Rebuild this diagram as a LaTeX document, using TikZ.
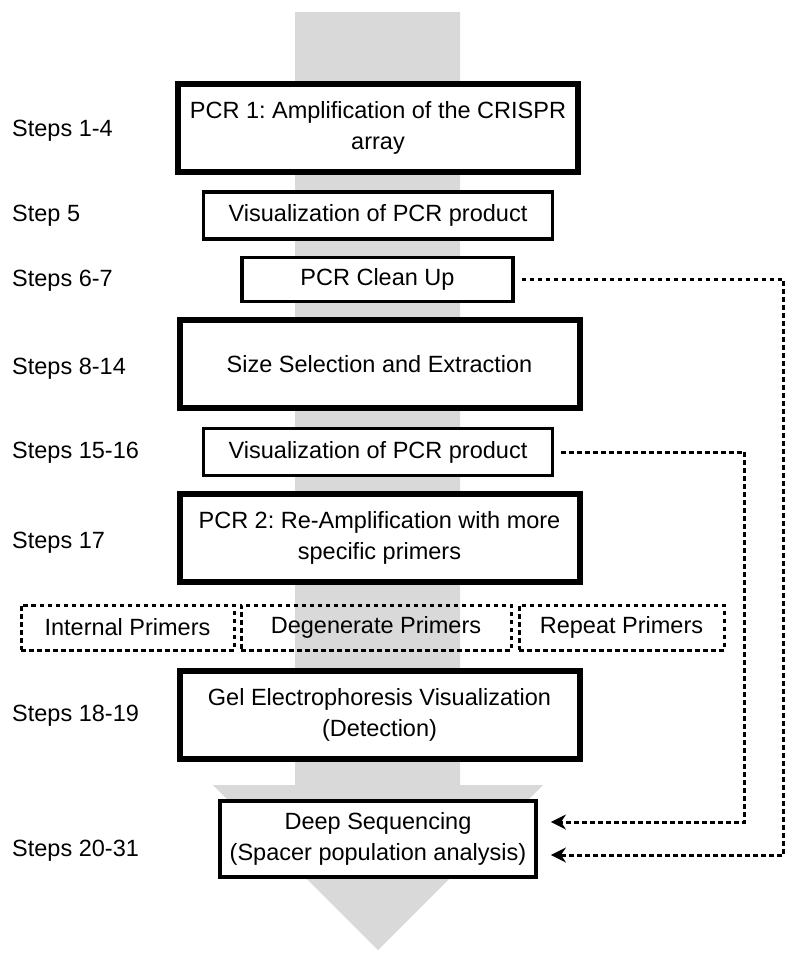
\documentclass[tikz,border=0pt]{standalone}
\usepackage{fontspec}
\setmainfont{Liberation Sans}
\usetikzlibrary{arrows.meta}
\definecolor{flowgray}{RGB}{217,217,217}
\begin{document}
\begin{tikzpicture}[x=1pt,y=-1pt,
  every node/.style={font=\fontsize{23.5}{31}\selectfont\frenchspacing, align=center, inner sep=0pt},
  thickbox/.style={draw, line width=6pt, fill=white, minimum width=400pt, minimum height=88pt},
  thinbox/.style={draw, line width=3.2pt, fill=white, minimum height=47pt},
  midbox/.style={draw, line width=3.8pt, fill=white},
  dotbox/.style={draw, line width=3pt, dash pattern=on 4.5pt off 3.5pt, minimum height=45pt},
  steplabel/.style={anchor=base west},
  conn/.style={line width=3pt, dash pattern=on 4.5pt off 3.5pt, -{Stealth[length=15pt,width=15pt]}, shorten <=7pt, shorten >=13pt}
]
\useasboundingbox (0,0) rectangle (800,962);
% big gray arrow
\fill[flowgray] (295,12) -- (460,12) -- (460,785) -- (543,785) -- (378,950) -- (213,785) -- (295,785) -- cycle;

% boxes
\node[thickbox] (pcr1) at (378,128) {PCR 1: Amplification of the CRISPR\\array};
\node[thinbox, minimum width=349pt] (vis1) at (378,215.5) {\raisebox{-1pt}{Visualization of PCR product}};
\node[thinbox, minimum width=271pt, minimum height=44pt] (clean) at (377.5,279.5) {\raisebox{-1pt}{PCR Clean Up}};
\node[thickbox] (size) at (379.5,364) {Size Selection and Extraction};
\node[thinbox, minimum width=349pt] (vis2) at (378,452) {\raisebox{-1pt}{Visualization of PCR product}};
\node[thickbox] (pcr2) at (379.5,538) {PCR 2: Re-Amplification with more\\specific primers};
\node[dotbox, minimum width=213pt] (internal) at (127.5,627.5) {Internal Primers};
\node[dotbox, minimum width=270pt] (degen) at (376,627.5) {Degenerate Primers};
\node[dotbox, minimum width=205pt] (repeat) at (621.5,627.5) {Repeat Primers};
\node[thickbox] (gel) at (379.5,715) {Gel Electrophoresis Visualization\\(Detection)};
\node[midbox, minimum width=316pt, minimum height=76pt] (deep) at (378,839) {Deep Sequencing\\(Spacer population analysis)};

% step labels
\node[steplabel] (s1) at (12,136) {Steps 1-4};
\node[steplabel] (s2) at (12,221) {Step 5};
\node[steplabel] (s3) at (12,286) {Steps 6-7};
\node[steplabel] (s4) at (12,374) {Steps 8-14};
\node[steplabel] (s5) at (12,458) {Steps 15-16};
\node[steplabel] (s6) at (12,548) {Steps 17};
\node[steplabel] (s7) at (12,721) {Steps 18-19};
\node[steplabel] (s8) at (12,856) {Steps 20-31};

% connectors
\draw[conn] (clean.east) -| ([xshift=246pt,yshift=-16pt]deep.east) -- ([yshift=-16pt]deep.east);
\draw[conn] (vis2.east) -| ([xshift=207pt,yshift=17pt]deep.east) -- ([yshift=17pt]deep.east);
\end{tikzpicture}
\end{document}
